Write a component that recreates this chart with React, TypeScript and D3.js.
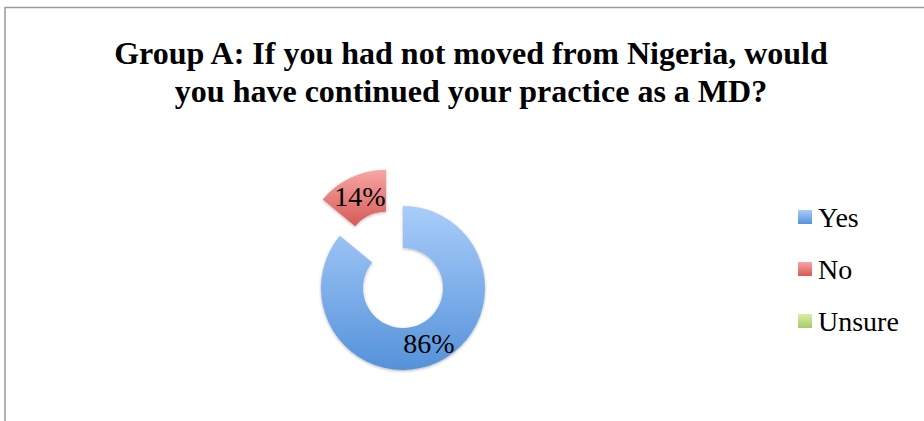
import React, { useEffect, useRef } from 'react';
import * as d3 from 'd3';

const categories = ['Yes', 'No', 'Unsure'];
const values = [86, 14, 0];
const labels = ['86%', '14%', ''];
const titleLines = ['Group A: If you had not moved from Nigeria, would', 'you have continued your practice as a MD?'];

const gradTop = ['#a9cdfa', '#f7a6a4', '#d9eea6'];
const gradBottom = ['#5592da', '#d65a56', '#a6cc62'];

const App = () => {
  const svgRef = useRef(null);

  useEffect(() => {
    const svg = d3.select(svgRef.current);
    svg.selectAll('*').remove();

    const width = 924;
    const height = 421;
    const cx = 403;
    const cy = 288;
    const outerR = 82;
    const innerR = 40;
    const explode = 40;

    const defs = svg.append('defs');
    categories.forEach((c, i) => {
      const g = defs.append('linearGradient')
        .attr('id', 'grad' + i)
        .attr('x1', 0).attr('y1', 0).attr('x2', 0).attr('y2', 1);
      g.append('stop').attr('offset', '0%').attr('stop-color', gradTop[i]);
      g.append('stop').attr('offset', '100%').attr('stop-color', gradBottom[i]);
    });
    const f = defs.append('filter').attr('id', 'shadow')
      .attr('x', '-20%').attr('y', '-20%').attr('width', '140%').attr('height', '140%');
    f.append('feDropShadow')
      .attr('dx', 0).attr('dy', 1).attr('stdDeviation', 1.5)
      .attr('flood-color', '#000').attr('flood-opacity', 0.3);

    // border
    svg.append('line')
      .attr('x1', 5).attr('x2', width).attr('y1', 7.5).attr('y2', 7.5)
      .attr('stroke', '#9a9a9a').attr('stroke-width', 1.5);
    svg.append('line')
      .attr('x1', 5).attr('x2', 5).attr('y1', 7).attr('y2', height)
      .attr('stroke', '#9a9a9a').attr('stroke-width', 1.5);

    // title
    svg.append('text')
      .attr('x', 471)
      .attr('y', 64)
      .attr('text-anchor', 'middle')
      .style('font-family', '"Liberation Serif", "Times New Roman", serif')
      .style('font-weight', 'bold')
      .style('font-size', '32px')
      .selectAll('tspan')
      .data(titleLines)
      .enter().append('tspan')
      .attr('x', 471)
      .attr('dy', (d, i) => (i === 0 ? 0 : 38))
      .text(d => d);

    const pie = d3.pie<number>().sort(null).value(d => d);
    const arcs = pie(values);
    const arc = d3.arc<any>().innerRadius(innerR).outerRadius(outerR);

    const offset = (d, i) => {
      if (i !== 1) return [0, 0];
      const a = (d.startAngle + d.endAngle) / 2;
      return [Math.sin(a) * explode, -Math.cos(a) * explode];
    };

    const g = svg.append('g').attr('transform', `translate(${cx}, ${cy})`);

    g.selectAll('path')
      .data(arcs.filter(d => d.value > 0))
      .enter().append('path')
      .attr('transform', d => {
        const o = offset(d, d.index);
        return `translate(${o[0]}, ${o[1]})`;
      })
      .attr('d', arc)
      .attr('fill', d => `url(#grad${d.index})`)
      .attr('filter', 'url(#shadow)');

    g.selectAll('text.lbl')
      .data(arcs.filter(d => d.value > 0))
      .enter().append('text')
      .attr('class', 'lbl')
      .attr('transform', d => {
        const o = offset(d, d.index);
        const c = arc.centroid(d);
        return `translate(${c[0] + o[0]}, ${c[1] + o[1]})`;
      })
      .attr('dy', '0.35em')
      .attr('text-anchor', 'middle')
      .style('font-family', '"Liberation Serif", "Times New Roman", serif')
      .style('font-size', '28px')
      .attr('fill', '#000')
      .text(d => labels[d.index]);

    // legend
    const legend = svg.append('g').attr('transform', 'translate(798, 210)');
    legend.selectAll('rect')
      .data(categories)
      .enter().append('rect')
      .attr('x', 0)
      .attr('y', (d, i) => i * 52)
      .attr('width', 14)
      .attr('height', 14)
      .attr('fill', (d, i) => `url(#grad${i})`);
    legend.selectAll('text')
      .data(categories)
      .enter().append('text')
      .attr('x', 20)
      .attr('y', (d, i) => i * 52 + 17)
      .style('font-family', '"Liberation Serif", "Times New Roman", serif')
      .style('font-size', '28px')
      .attr('fill', '#000')
      .text(d => d);
  }, []);

  return (
    <svg ref={svgRef} width="924" height="421" style={{ position: 'absolute', left: 0, top: 0, background: '#fff' }}></svg>
  );
};

export default App;
